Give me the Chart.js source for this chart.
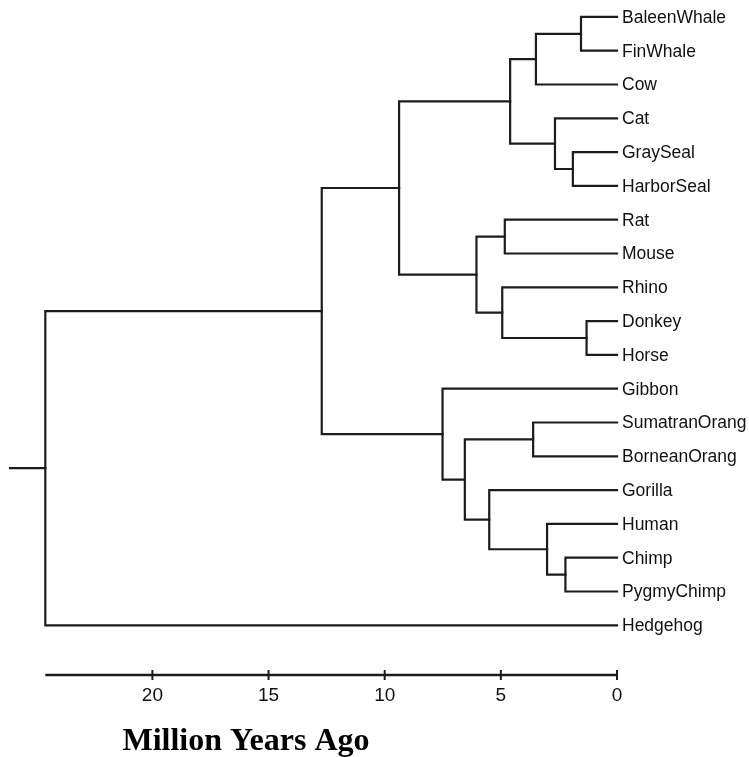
<!DOCTYPE html>
<html>
<head>
<meta charset="utf-8">
<script src="https://cdn.jsdelivr.net/npm/chart.js@4.4.1/dist/chart.umd.min.js"></script>
<style>
    html, body { margin: 0; padding: 0; background: #fff; }
    #wrap { width: 749px; height: 757px; }
</style>
</head>
<body>
<div id="wrap"><canvas id="tree"></canvas></div>
<script>
// leaves, top to bottom (row = index)
const taxa = [
    'BaleenWhale', 'FinWhale', 'Cow', 'Cat', 'GraySeal', 'HarborSeal',
    'Rat', 'Mouse', 'Rhino', 'Donkey', 'Horse', 'Gibbon',
    'SumatranOrang', 'BorneanOrang', 'Gorilla', 'Human', 'Chimp', 'PygmyChimp',
    'Hedgehog'
];

// joins, linkage style: ids 0..18 are the leaves, join k gets id 19 + k
const joinLeft  = [0, 19, 4, 3, 20, 6, 9, 8, 24, 23, 12, 16, 15, 14, 29, 11, 28, 35];
const joinRight = [1, 2, 5, 21, 22, 7, 10, 25, 26, 27, 13, 17, 30, 31, 32, 33, 34, 18];
const joinAge   = [1.55, 3.49, 1.90, 2.67, 4.60, 4.83, 1.31, 4.94, 6.05, 9.38,
                   3.61, 2.22, 3.01, 5.50, 6.55, 7.51, 12.71, 24.61];

const axisTicks = [20, 15, 10, 5, 0];
const timeMax = 26.13;

const lineColor = '#1c1c1c';

// age and row of every node
const nodeAge = taxa.map(() => 0);
const nodeRow = taxa.map((_, i) => i);
joinAge.forEach((age, k) => {
    nodeAge.push(age);
    nodeRow.push((nodeRow[joinLeft[k]] + nodeRow[joinRight[k]]) / 2);
});

const datasets = joinAge.map((age, k) => {
    const l = joinLeft[k], r = joinRight[k];
    return {
        data: [
            { x: nodeAge[l], y: nodeRow[l] },
            { x: age, y: nodeRow[l] },
            { x: age, y: nodeRow[r] },
            { x: nodeAge[r], y: nodeRow[r] }
        ]
    };
});

// stub to the left of the root
const rootId = nodeAge.length - 1;
datasets.push({
    data: [
        { x: nodeAge[rootId], y: nodeRow[rootId] },
        { x: timeMax, y: nodeRow[rootId] }
    ]
});

datasets.forEach(ds => {
    ds.showLine = true;
    ds.borderColor = lineColor;
    ds.borderWidth = 2.2;
    ds.pointRadius = 0;
    ds.borderJoinStyle = 'miter';
    ds.borderCapStyle = 'square';
    ds.clip = false;
});

const treeExtras = {
    id: 'treeExtras',
    afterDraw(chart) {
        const { ctx, chartArea, scales: { x, y } } = chart;
        ctx.save();

        ctx.font = '17.5px "Liberation Sans", Arial, sans-serif';
        ctx.fillStyle = '#111';
        ctx.textAlign = 'left';
        ctx.textBaseline = 'middle';
        taxa.forEach((name, i) => {
            ctx.fillText(name, x.getPixelForValue(0) + 5, y.getPixelForValue(i) + 1);
        });

        // time axis
        const ay = chartArea.bottom;
        ctx.strokeStyle = lineColor;
        ctx.lineWidth = 2.6;
        ctx.beginPath();
        ctx.moveTo(x.getPixelForValue(nodeAge[rootId]), ay);
        ctx.lineTo(x.getPixelForValue(0), ay);
        ctx.stroke();
        ctx.lineWidth = 2;
        axisTicks.forEach(v => {
            const px = x.getPixelForValue(v);
            ctx.beginPath();
            ctx.moveTo(px, ay - 5);
            ctx.lineTo(px, ay + 5);
            ctx.stroke();
        });

        ctx.font = 'bold 32px "Liberation Serif", "Times New Roman", serif';
        ctx.fillStyle = '#000';
        ctx.textAlign = 'center';
        ctx.textBaseline = 'alphabetic';
        ctx.fillText('Million Years Ago', 246, 750);
        ctx.restore();
    }
};

new Chart(document.getElementById('tree'), {
    type: 'scatter',
    data: { datasets },
    plugins: [treeExtras],
    options: {
        responsive: true,
        maintainAspectRatio: false,
        animation: false,
        layout: { padding: { left: 10, right: 132, top: 0, bottom: 0 } },
        plugins: {
            legend: { display: false },
            tooltip: { enabled: false }
        },
        scales: {
            x: {
                type: 'linear',
                reverse: true,
                min: 0,
                max: timeMax,
                afterBuildTicks: s => { s.ticks = axisTicks.map(v => ({ value: v })); },
                afterFit: s => { s.height = 82; },
                grid: { display: false, drawTicks: false },
                border: { display: false },
                ticks: {
                    padding: 9,
                    color: '#111',
                    font: { family: '"Liberation Sans", Arial, sans-serif', size: 19 }
                }
            },
            y: {
                type: 'linear',
                display: false,
                reverse: true,
                min: -0.5,
                max: 19.47
            }
        }
    }
});
</script>
</body>
</html>
